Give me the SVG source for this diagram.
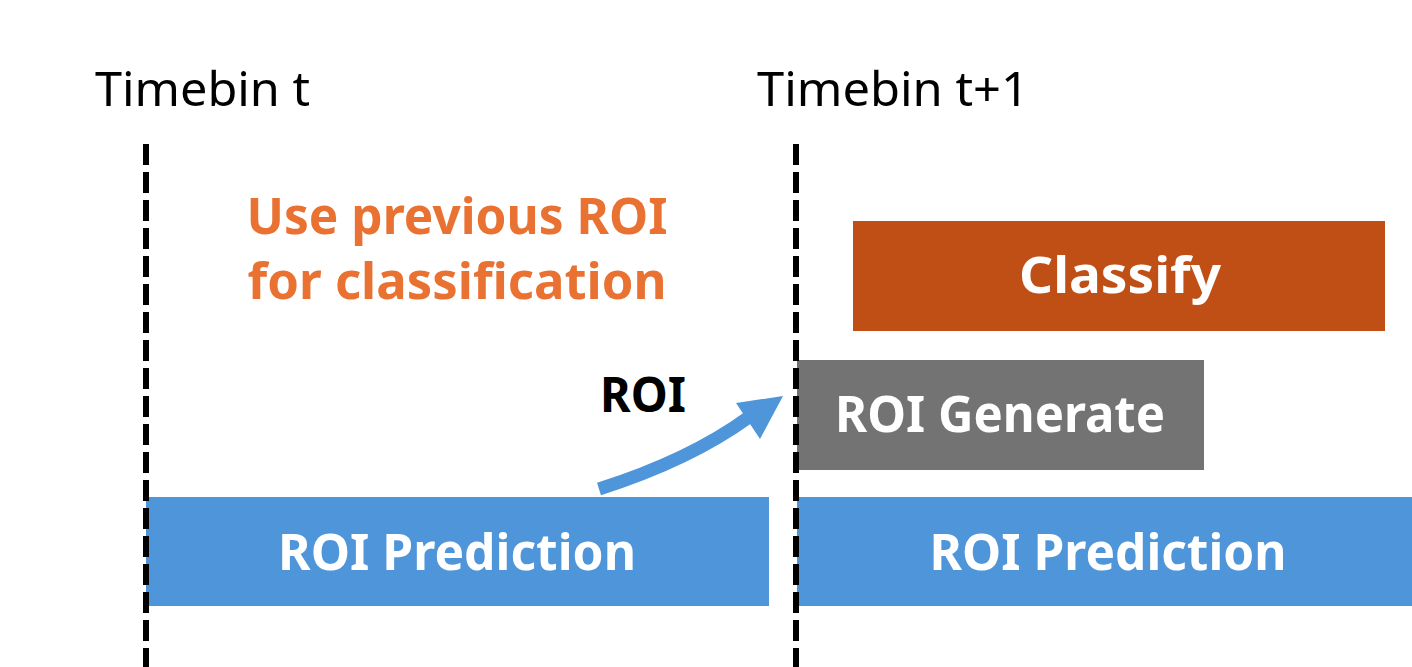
<svg xmlns="http://www.w3.org/2000/svg" width="1412" height="667" viewBox="0 0 1412 667">
  <style>
    .head { font-family: "Noto Sans", "Liberation Sans", sans-serif; font-size: 48px; fill: #000; }
    .lbl { font-family: "Noto Sans", "Liberation Sans", sans-serif; font-weight: bold; font-size: 50px; fill: #fff; text-anchor: middle; }
    .note { font-family: "Noto Sans", "Liberation Sans", sans-serif; font-weight: bold; font-size: 50px; fill: #E97132; text-anchor: middle; }
    .dash { stroke: #000; stroke-width: 6; stroke-dasharray: 21 7; fill: none; }
  </style>
  <rect width="1412" height="667" fill="#fff"/>

  <g id="prediction-t">
    <rect x="146" y="497" width="623" height="109" fill="#4E95D9"/>
    <text class="lbl" x="457" y="570" textLength="358" lengthAdjust="spacingAndGlyphs">ROI Prediction</text>
  </g>
  <g id="prediction-t1">
    <rect x="797" y="497" width="615" height="109" fill="#4E95D9"/>
    <text class="lbl" x="1108" y="570" textLength="357" lengthAdjust="spacingAndGlyphs">ROI Prediction</text>
  </g>
  <g id="roi-generate">
    <rect x="797" y="360" width="407" height="110" fill="#737373"/>
    <text class="lbl" x="1000" y="432" textLength="330" lengthAdjust="spacingAndGlyphs">ROI Generate</text>
  </g>
  <g id="classify">
    <rect x="853" y="221" width="532" height="110" fill="#C04F15"/>
    <text class="lbl" x="1120" y="293" textLength="202" lengthAdjust="spacingAndGlyphs">Classify</text>
  </g>

  <g id="timelines">
    <line class="dash" x1="146" y1="144" x2="146" y2="667"/>
    <line class="dash" x1="796" y1="144" x2="796" y2="667"/>
    <text class="head" x="95" y="106" textLength="215" lengthAdjust="spacingAndGlyphs">Timebin t</text>
    <text class="head" x="757" y="106" textLength="272" lengthAdjust="spacingAndGlyphs">Timebin t+1</text>
  </g>

  <g id="note">
    <text class="note" x="457" y="234" textLength="421" lengthAdjust="spacingAndGlyphs">Use previous ROI</text>
    <text class="note" x="457" y="299" textLength="419" lengthAdjust="spacingAndGlyphs">for classification</text>
  </g>

  <g id="connectors">
    <path d="M599 489 Q690 460 749 417" stroke="#4E95D9" stroke-width="13" fill="none"/>
    <polygon points="783,396 736,403 760,439" fill="#4E95D9"/>
    <text x="643" y="412" font-family="Noto Sans, Liberation Sans, sans-serif" font-weight="bold" font-size="48" text-anchor="middle" textLength="86" lengthAdjust="spacingAndGlyphs">ROI</text>
  </g>
</svg>
